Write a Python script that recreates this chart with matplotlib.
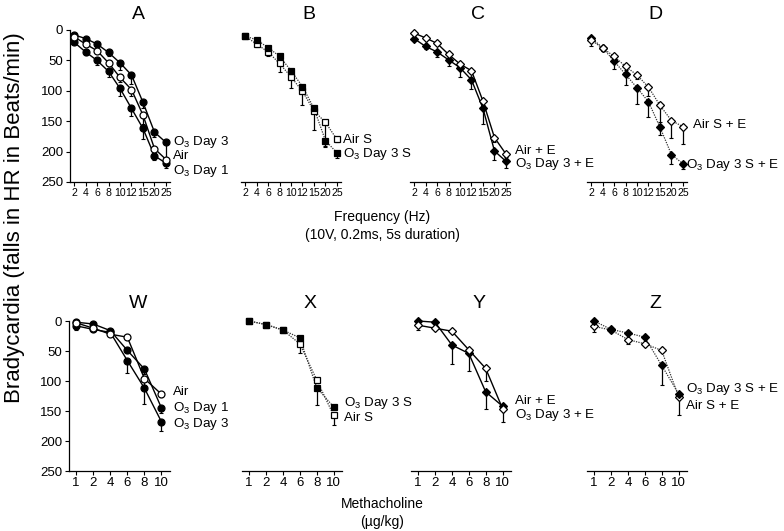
import matplotlib
matplotlib.use('Agg')
import matplotlib.pyplot as plt
import numpy as np

plt.rcParams['font.family'] = ['Liberation Sans', 'DejaVu Sans']
plt.rcParams['mathtext.fontset'] = 'custom'
plt.rcParams['mathtext.rm'] = 'Liberation Sans'

# ---------------- data ----------------
freq_labels = ['2', '4', '6', '8', '10', '12', '15', '20', '25']
mch_labels = ['1', '2', '4', '6', '8', '10']
y_ticks = [0, 50, 100, 150, 200, 250]

A_o3d3 = [8, 14, 23, 37, 54, 74, 119, 168, 185]
A_o3d3_err = [2, 3, 4, 5, 12, 15, 10, 8, 34]
A_air = [11, 23, 34, 54, 78, 98, 140, 195, 213]
A_air_err = [2, 3, 4, 6, 8, 11, 14, 8, 4]
A_o3d1 = [20, 36, 50, 68, 96, 129, 162, 207, 219]
A_o3d1_err = [3, 5, 7, 9, 12, 13, 18, 7, 8]

B_o3 = [10, 16, 29, 43, 67, 93, 129, 182, 202]
B_o3_err = [1, 2, 3, 4, 5, 6, 8, 11, 8]
B_air = [10, 23, 36, 55, 77, 101, 133, 152, 180]
B_air_err = [1, 5, 7, 14, 19, 22, 31, 39, 5]

C_air = [5, 13, 22, 40, 56, 67, 117, 177, 204]
C_air_err = [1, 2, 2, 3, 3, 4, 6, 8, 5]
C_o3 = [14, 27, 36, 49, 62, 82, 129, 199, 216]
C_o3_err = [2, 4, 8, 10, 15, 15, 25, 14, 11]

D_o3 = [13, 29, 51, 73, 95, 118, 160, 205, 220]
D_o3_err = [2, 5, 13, 18, 26, 25, 13, 15, 9]
D_air = [16, 30, 43, 60, 74, 94, 124, 149, 159]
D_air_err = [10, 4, 4, 5, 6, 15, 27, 28, 29]

W_air = [3, 12, 22, 27, 96, 122]
W_air_err = [3, 2, 2, 2, 10, 5]
W_o3d1 = [2, 5, 16, 49, 80, 145]
W_o3d1_err = [2, 2, 2, 5, 8, 8]
W_o3d3 = [8, 14, 19, 66, 112, 168]
W_o3d3_err = [7, 3, 3, 21, 27, 15]

X_o3 = [0, 6, 15, 28, 111, 143]
X_o3_err = [1, 1, 1, 2, 29, 4]
X_air = [0, 6, 15, 38, 98, 157]
X_air_err = [1, 1, 1, 16, 6, 16]

Y_o3 = [0, 2, 40, 54, 118, 142]
Y_o3_err = [1, 1, 32, 30, 28, 4]
Y_air = [7, 12, 17, 48, 79, 146]
Y_air_err = [8, 2, 2, 4, 21, 22]

Z_o3 = [0, 14, 20, 27, 74, 121]
Z_o3_err = [1, 4, 2, 2, 33, 4]
Z_air = [9, 15, 31, 38, 49, 126]
Z_air_err = [9, 3, 7, 3, 3, 31]

O3 = r'$\mathregular{O_3}$'

# ---------------- layout ----------------
W_FIG, H_FIG = 784, 531
fig = plt.figure(figsize=(W_FIG / 100, H_FIG / 100), dpi=100)


def rect(left_px, top_px, w_px, h_px):
    return [left_px / W_FIG, 1 - (top_px + h_px) / H_FIG, w_px / W_FIG, h_px / H_FIG]


def panel(r, xlabels, xlim, series, dotted, title, title_y, show_y, tick_fs, labels):
    ax = fig.add_axes(r)
    x = np.arange(len(xlabels))
    for vals, errs, filled, marker in series:
        ax.errorbar(x, vals, yerr=[np.zeros(len(errs)), errs], fmt='none',
                    ecolor='black', elinewidth=0.9, capsize=1.5, capthick=0.8,
                    clip_on=False, zorder=2)
    for vals, errs, filled, marker in series:
        if dotted:
            ax.plot(x, vals, linestyle=(0, (1, 1)), color='#333333', lw=0.9,
                    clip_on=False, zorder=2.5)
        else:
            ax.plot(x, vals, '-', color='black', lw=1.0, clip_on=False, zorder=2.5)
        ms = 4.3 if marker == 'D' else 5.0
        ax.plot(x, vals, linestyle='none', marker=marker, ms=ms,
                mfc='black' if filled else 'white', mec='black', mew=0.9,
                clip_on=False, zorder=3)
    ax.set_ylim(250, 0)
    ax.set_xlim(*xlim)
    ax.set_xticks(x)
    ax.set_xticklabels(xlabels, fontsize=tick_fs)
    ax.tick_params(axis='x', direction='out', length=3, width=0.8, pad=1.5)
    for s in ['top', 'right']:
        ax.spines[s].set_visible(False)
    ax.spines['bottom'].set_linewidth(0.9)
    if show_y:
        ax.spines['left'].set_linewidth(0.9)
        ax.set_yticks(y_ticks)
        ax.tick_params(axis='y', direction='out', length=3, width=0.8, pad=2,
                       labelsize=9.5)
    else:
        ax.spines['left'].set_visible(False)
        ax.set_yticks([])
    ax.text(0.68, title_y, title, transform=ax.transAxes, ha='center', va='center',
            fontsize=14)
    for text, lx, ly in labels:
        ax.text(lx, ly, text, transform=ax.get_yaxis_transform(), ha='left',
                va='center', fontsize=9.6, clip_on=False)
    ax.patch.set_alpha(0)
    return ax


top_lx = [70, 241, 410, 587]
bot_lx = [69, 242, 411, 587]
top_ft = 7.6
bot_ft = 9.5
xl_top = (-0.35, 8.35)
xl_bot = (-0.42, 5.5)
t_top = 1.10
t_bot = 1.12

panel(rect(top_lx[0], 30, 100, 152), freq_labels, xl_top,
      [(A_o3d3, A_o3d3_err, True, 'o'), (A_o3d1, A_o3d1_err, True, 'o'),
       (A_air, A_air_err, False, 'o')],
      False, 'A', t_top, True, top_ft,
      [(O3 + ' Day 3', 1.03, 185), ('Air', 1.03, 208), (O3 + ' Day 1', 1.03, 232)])

panel(rect(top_lx[1], 30, 100, 152), freq_labels, xl_top,
      [(B_air, B_air_err, False, 's'), (B_o3, B_o3_err, True, 's')],
      True, 'B', t_top, False, top_ft,
      [('Air S', 1.02, 181), (O3 + ' Day 3 S', 1.02, 204)])

panel(rect(top_lx[2], 30, 100, 152), freq_labels, xl_top,
      [(C_o3, C_o3_err, True, 'D'), (C_air, C_air_err, False, 'D')],
      False, 'C', t_top, False, top_ft,
      [('Air + E', 1.05, 199), (O3 + ' Day 3 + E', 1.05, 221)])

panel(rect(top_lx[3], 30, 100, 152), freq_labels, xl_top,
      [(D_o3, D_o3_err, True, 'D'), (D_air, D_air_err, False, 'D')],
      True, 'D', t_top, False, top_ft,
      [('Air S + E', 1.06, 157), (O3 + ' Day 3 S + E', 0.995, 222)])

panel(rect(bot_lx[0], 321, 101, 150), mch_labels, xl_bot,
      [(W_o3d1, W_o3d1_err, True, 'o'), (W_o3d3, W_o3d3_err, True, 'o'),
       (W_air, W_air_err, False, 'o')],
      False, 'W', t_bot, True, bot_ft,
      [('Air', 1.03, 118), (O3 + ' Day 1', 1.03, 145), (O3 + ' Day 3', 1.03, 171)])

panel(rect(bot_lx[1], 321, 100, 150), mch_labels, xl_bot,
      [(X_air, X_air_err, False, 's'), (X_o3, X_o3_err, True, 's')],
      True, 'X', t_bot, False, bot_ft,
      [(O3 + ' Day 3 S', 1.02, 136), ('Air S', 1.02, 162)])

panel(rect(bot_lx[2], 321, 100, 150), mch_labels, xl_bot,
      [(Y_o3, Y_o3_err, True, 'D'), (Y_air, Y_air_err, False, 'D')],
      False, 'Y', t_bot, False, bot_ft,
      [('Air + E', 1.04, 133), (O3 + ' Day 3 + E', 1.04, 157)])

panel(rect(bot_lx[3], 321, 100, 150), mch_labels, xl_bot,
      [(Z_air, Z_air_err, False, 'D'), (Z_o3, Z_o3_err, True, 'D')],
      True, 'Z', t_bot, False, bot_ft,
      [(O3 + ' Day 3 S + E', 0.99, 114), ('Air S + E', 0.99, 141)])

# axis titles
fig.text(382 / W_FIG, 1 - 217 / H_FIG, 'Frequency (Hz)', ha='center', va='center', fontsize=10)
fig.text(382 / W_FIG, 1 - 235 / H_FIG, '(10V, 0.2ms, 5s duration)', ha='center', va='center', fontsize=10)
fig.text(382 / W_FIG, 1 - 504 / H_FIG, 'Methacholine', ha='center', va='center', fontsize=10)
fig.text(382 / W_FIG, 1 - 522 / H_FIG, '(µg/kg)', ha='center', va='center', fontsize=10)
fig.text(15 / W_FIG, 1 - 218 / H_FIG, 'Bradycardia (falls in HR in Beats/min)', rotation=90,
         ha='center', va='center', fontsize=16)

fig.savefig('out.png', dpi=100)
